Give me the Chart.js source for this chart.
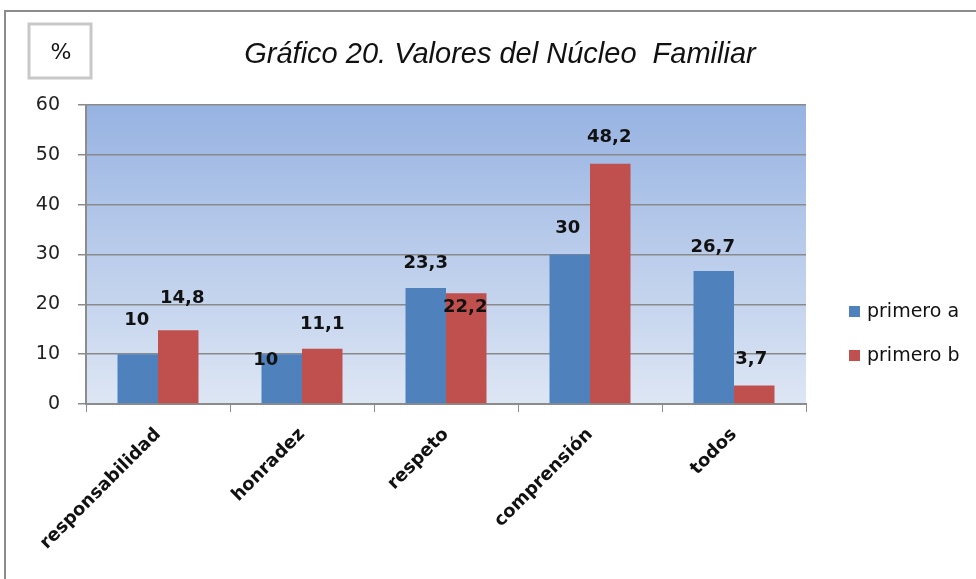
<!DOCTYPE html>
<html>
<head>
<meta charset="utf-8">
<script src="https://cdn.jsdelivr.net/npm/chart.js@4"></script>
<style>
  body { margin: 0; background: #fff; }
  canvas { display: block; }
</style>
</head>
<body>
<canvas id="grafico" width="976" height="579"></canvas>
<script>
// Data
const categories = ["responsabilidad", "honradez", "respeto", "comprensión", "todos"];
const primeroA = [10, 10, 23.3, 30, 26.7];
const primeroB = [14.8, 11.1, 22.2, 48.2, 3.7];
const seriesNames = ["primero a", "primero b"];
const yMax = 60;
const yStep = 10;

// hand-placed label offsets (Excel labels were dragged around)
const labelShift = [
  [[-1, -34], [-16, 6], [0, -25], [-2, -26], [-1, -24]],
  [[4, -32], [0, -24], [-1, 14], [-1, -26], [-3, -26]],
];

const fmt = (v) => String(v).replace(".", ",");

// Frame, title, "%" box and gradient plot background
const decorPlugin = {
  id: "decor",
  beforeDraw(chart) {
    const ctx = chart.ctx;
    const a = chart.chartArea;
    ctx.save();
    // outer frame (clipped at right/bottom like the original)
    ctx.strokeStyle = "#8c8c8c";
    ctx.lineWidth = 2;
    ctx.strokeRect(5, 11, 1000, 600);

    // plot background gradient
    const g = ctx.createLinearGradient(0, a.top, 0, a.bottom);
    g.addColorStop(0, "#97b3e2");
    g.addColorStop(1, "#dde6f4");
    ctx.fillStyle = g;
    ctx.fillRect(a.left, a.top, a.right - a.left, a.bottom - a.top);

    // "%" box
    ctx.strokeStyle = "#c8c8c8";
    ctx.lineWidth = 3;
    ctx.strokeRect(29, 24, 62, 54);
    ctx.fillStyle = "#111";
    ctx.font = "22px 'DejaVu Sans'";
    ctx.textAlign = "center";
    ctx.textBaseline = "middle";
    ctx.fillText("%", 61, 53);

    // title
    ctx.font = "italic 29px 'Liberation Sans'";
    ctx.fillText("Gráfico 20. Valores del Núcleo  Familiar", 500, 55);
    ctx.restore();
  },
  afterDatasetsDraw(chart) {
    const ctx = chart.ctx;
    ctx.save();
    ctx.font = "bold 18px 'DejaVu Sans'";
    ctx.fillStyle = "#111";
    ctx.textAlign = "center";
    ctx.textBaseline = "middle";
    chart.data.datasets.forEach((ds, di) => {
      chart.getDatasetMeta(di).data.forEach((bar, i) => {
        const [dx, dy] = labelShift[di][i];
        ctx.fillText(fmt(ds.data[i]), bar.x + dx, bar.y + dy);
      });
    });

    // legend on the right
    ctx.font = "19px 'DejaVu Sans'";
    ctx.textAlign = "left";
    chart.data.datasets.forEach((ds, di) => {
      const y = 312 + di * 44;
      ctx.fillStyle = ds.backgroundColor;
      ctx.fillRect(849, y - 6, 11, 11);
      ctx.fillStyle = "#111";
      ctx.fillText(ds.label, 867, y);
    });
    ctx.restore();
  },
};

const ctx = document.getElementById("grafico").getContext("2d");
new Chart(ctx, {
  type: "bar",
  data: {
    labels: categories,
    datasets: [
      { label: seriesNames[0], data: primeroA, backgroundColor: "#4f81bd" },
      { label: seriesNames[1], data: primeroB, backgroundColor: "#c0504d" },
    ],
  },
  options: {
    responsive: false,
    animation: false,
    layout: { padding: { top: 105, right: 170, left: 0, bottom: 0 } },
    datasets: { bar: { categoryPercentage: 0.5625, barPercentage: 1 } },
    plugins: {
      legend: { display: false },
      title: { display: false },
      tooltip: { enabled: false },
    },
    scales: {
      x: {
        afterFit: (s) => { s.height = 175; },
        grid: { offset: true, drawOnChartArea: false, tickLength: 8, color: "#8c8c8c", lineWidth: 1 },
        border: { color: "#8c8c8c", width: 2 },
        ticks: {
          minRotation: 45,
          maxRotation: 45,
          padding: 12,
          color: "#111",
          font: { family: "DejaVu Sans", size: 18, weight: "bold" },
        },
      },
      y: {
        min: 0,
        max: yMax,
        afterFit: (s) => { s.width = 86; },
        grid: { color: "#8a8a8a", lineWidth: 1.5, tickLength: 8 },
        border: { color: "#8c8c8c", width: 2 },
        ticks: {
          stepSize: yStep,
          padding: 18,
          color: "#222",
          font: { family: "DejaVu Sans", size: 19 },
        },
      },
    },
  },
  plugins: [decorPlugin],
});
</script>
</body>
</html>
